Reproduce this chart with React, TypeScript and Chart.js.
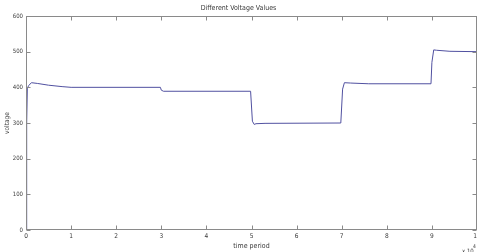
import React, { useEffect, useRef } from "react";
import { Chart, registerables } from "chart.js";

Chart.register(...registerables);

// time (x 10^4) and voltage values
const timePoints = [
  0, 0.015, 0.03, 0.06, 0.12, 0.25, 0.5, 0.8, 1.0, 2.98, 3.0, 3.05, 4.98, 5.02, 5.06, 5.1, 5.3, 6.98, 7.02, 7.06, 7.2, 7.6, 8.98, 9.0, 9.04, 9.1, 9.4, 10,
];
const voltageValues = [
  0, 300, 398, 405, 413, 411, 406, 402, 400, 400, 392, 389, 389, 305, 296, 298, 299, 300, 395, 413, 412, 410, 410, 470, 505, 504, 501, 500,
];
const xTicks = [0, 10];
const yTicks = [0, 600];
const chartTitle = "Different Voltage Values";
const xTitle = "time period";
const yTitle = "voltage";

const FONT = "'Liberation Sans Narrow', 'DejaVu Sans Condensed', 'Liberation Sans', sans-serif";
const AXIS_COLOR = "#8a8a8a";
const TEXT_COLOR = "#3a3a3a";

const boxPlugin = {
  id: "matlabBox",
  afterDraw(chart: any) {
    const { ctx, chartArea } = chart;
    const xs = chart.scales.x;
    const ys = chart.scales.y;
    const L = Math.round(chartArea.left) + 0.5;
    const R = Math.round(chartArea.right) - 0.5;
    const T = Math.round(chartArea.top) + 0.5;
    const B = Math.round(chartArea.bottom) - 0.5;
    ctx.save();
    ctx.strokeStyle = AXIS_COLOR;
    ctx.lineWidth = 1;
    ctx.strokeRect(L, T, R - L, B - T);
    const tl = 4;
    ctx.beginPath();
    xs.ticks.forEach((t: any) => {
      const px = Math.round(xs.getPixelForValue(t.value)) + 0.5;
      ctx.moveTo(px, B);
      ctx.lineTo(px, B - tl);
      ctx.moveTo(px, T);
      ctx.lineTo(px, T + tl);
    });
    ys.ticks.forEach((t: any) => {
      const py = Math.round(ys.getPixelForValue(t.value)) + 0.5;
      ctx.moveTo(L, py);
      ctx.lineTo(L + tl, py);
      ctx.moveTo(R, py);
      ctx.lineTo(R - tl, py);
    });
    ctx.stroke();
    // exponent label
    ctx.fillStyle = TEXT_COLOR;
    ctx.textBaseline = "alphabetic";
    ctx.textAlign = "left";
    ctx.font = `6px ${FONT}`;
    ctx.fillText("x 10", chartArea.right - 15, 253);
    ctx.font = `5px ${FONT}`;
    ctx.fillText("4", chartArea.right - 4, 248);
    ctx.restore();
  },
};

export default function App() {
  const ref = useRef<HTMLCanvasElement>(null);
  useEffect(() => {
    document.body.style.margin = "0";
    if (!ref.current) return;
    const data = timePoints.map((t, i) => ({ x: t, y: voltageValues[i] }));
    const chart = new Chart(ref.current, {
      type: "line",
      data: {
        datasets: [
          {
            data,
            borderColor: "#5050a0",
            borderWidth: 1,
            pointRadius: 0,
            tension: 0,
            fill: false,
          },
        ],
      },
      options: {
        animation: false,
        responsive: true,
        maintainAspectRatio: false,
        layout: { padding: 0 },
        plugins: {
          legend: { display: false },
          tooltip: { enabled: false },
          title: {
            display: true,
            text: chartTitle,
            color: TEXT_COLOR,
            font: { family: FONT, size: 7, weight: "normal" },
            padding: { top: 4, bottom: 3.6 },
          },
        },
        scales: {
          x: {
            type: "linear",
            min: xTicks[0],
            max: xTicks[1],
            ticks: {
              stepSize: 1,
              color: TEXT_COLOR,
              font: { family: FONT, size: 6.5 },
              padding: 2,
              maxRotation: 0,
              autoSkip: false,
            },
            grid: { display: false, drawTicks: false },
            border: { display: false },
            title: {
              display: true,
              text: xTitle,
              color: TEXT_COLOR,
              font: { family: FONT, size: 7 },
              padding: { top: 0, bottom: 1.5 },
            },
            afterFit(scale: any) {
              scale.height = 22;
              scale.paddingLeft = 0;
              scale.paddingRight = 0;
            },
          },
          y: {
            type: "linear",
            min: yTicks[0],
            max: yTicks[1],
            ticks: {
              stepSize: 100,
              color: TEXT_COLOR,
              font: { family: FONT, size: 6 },
              padding: 3,
            },
            grid: { display: false, drawTicks: false },
            border: { display: false },
            title: {
              display: true,
              text: yTitle,
              color: TEXT_COLOR,
              font: { family: FONT, size: 6.5 },
              padding: { top: 3, bottom: 0 },
            },
            afterFit(scale: any) {
              scale.width = 26;
              scale.paddingTop = 0;
              scale.paddingBottom = 0;
            },
          },
        },
      },
      plugins: [boxPlugin],
    });
    return () => chart.destroy();
  }, []);
  return (
    <div style={{ width: 477, height: 252, position: "relative", background: "#fff" }}>
      <canvas ref={ref} />
    </div>
  );
}
